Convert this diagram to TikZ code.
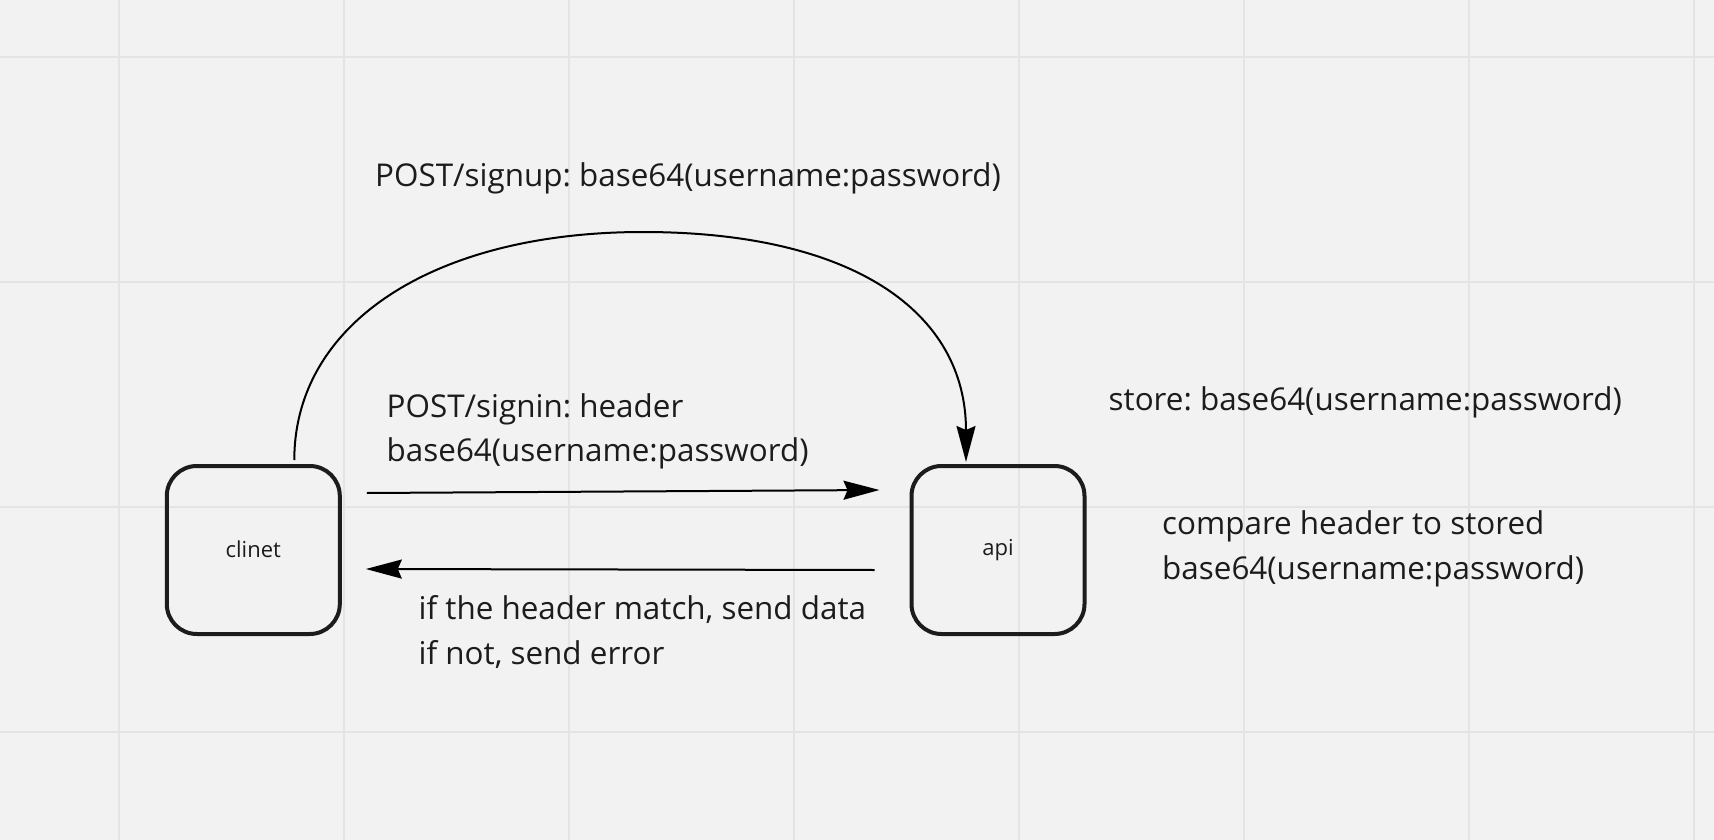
\documentclass[tikz,border=0pt]{standalone}
\usepackage{fontspec}
\setmainfont{Open Sans}
\usetikzlibrary{arrows.meta}
\definecolor{bg}{HTML}{F2F2F2}
\definecolor{gridc}{HTML}{E4E4E4}
\definecolor{ink}{HTML}{1C1C1C}
\frenchspacing
\tikzset{
  box/.style={draw=ink, line width=4pt, rounded corners=30pt, minimum width=173pt, minimum height=168pt, inner sep=0pt, font=\fontsize{22}{26}\selectfont, text=ink},
  lbl/.style={anchor=base west, inner sep=0pt, align=left, font=\frenchspacing\fontsize{31.4}{44.5}\selectfont, text=ink},
  arr/.style={line width=2pt, draw=black, -{Stealth[length=36pt, width=19pt, inset=4pt]}},
  gridline/.style={draw=gridc, line width=2pt}
}
\begin{document}
\begin{tikzpicture}[x=1pt, y=-1pt]
\useasboundingbox (0,0) rectangle (1714,840);
\fill[bg] (0,0) rectangle (1714,840);
\foreach \gx in {118.5,343.5,568.5,793.5,1018.5,1243.5,1468.5,1693.5} \draw[gridline] (\gx,0) -- (\gx,840);
\foreach \gy in {57,282,507,732} \draw[gridline] (0,\gy) -- (1714,\gy);

\node[box] (clinet) at (253.3,550) {\raisebox{2pt}{clinet}};
\node[box] (api) at (998,550) {api};

\coordinate (peak) at (643,232);
\draw[arr] ([xshift=41pt,yshift=4pt]clinet.north) .. controls +(0,-137) and +(-209,0) .. (peak)
  .. controls +(210,0) and +(0,-150) .. ([xshift=-32pt,yshift=2pt]api.north);
\draw[arr] ([xshift=25pt,yshift=57pt]clinet.east) -- ([xshift=-30pt,yshift=60pt]api.west);
\draw[arr] ([xshift=-35pt,yshift=-20pt]api.west) -- ([xshift=24pt,yshift=-19pt]clinet.east);

% base anchor of a multi-line node is the baseline of its last line
\node[lbl] (signup) at (375,186) {POST/signup: base64(username:password)};
\node[lbl] (signin) at (386.5,461.7) {POST/signin: header\\base64(username:password)};
\node[lbl] (reply) at (418.5,664.3) {if the header match, send data\\if not, send error};
\node[lbl] (store) at (1108.5,410.7) {store: base64(username:password)};
\node[lbl] (compare) at (1162,579.3) {compare header to stored\\base64(username:password)};
\end{tikzpicture}
\end{document}
